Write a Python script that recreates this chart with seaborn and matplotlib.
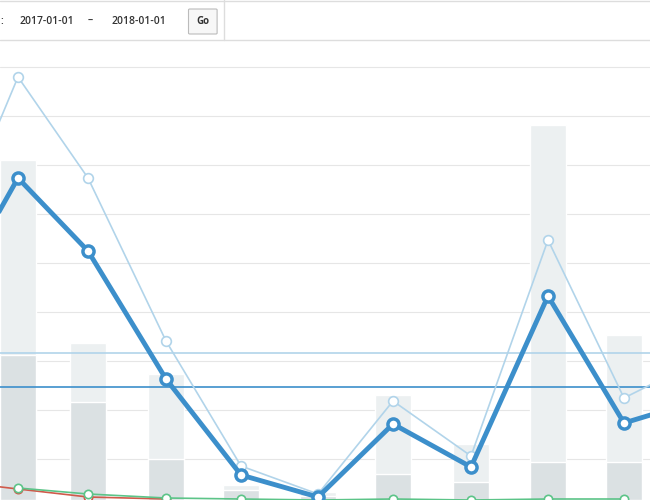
import matplotlib
matplotlib.use("Agg")
import matplotlib.pyplot as plt
import seaborn as sns
from matplotlib.patches import FancyBboxPatch

sns.set_style("white")
plt.rcParams['font.family'] = ['Open Sans', 'DejaVu Sans']

months = [18, 88, 166, 241, 318, 393, 471, 548, 624]
light_bars = [340, 157, 126, 15, 8, 105, 56, 375, 165]
dark_bars = [145, 98, 41, 10, 4, 26, 18, 38, 38]
ext_months = [-58, 18, 88, 166, 241, 318, 393, 471, 548, 624, 700]
net_sales = [187, 322, 249, 121, 25, 3, 76, 33, 204, 77, 100]
gross_sales = [241, 423, 322, 159, 34, 6, 99, 44, 260, 102, 140]
red_months = [-58, 18, 88, 166]
red_vals = [20, 11, 3, 1]
green_vals = [12, 6, 2, 1, 0, 1, 0, 1, 1]
avg_gross = 147
avg_net = 113

fig = plt.figure(figsize=(6.5, 5), dpi=100)
ax = fig.add_axes([0, 0, 1, 0.92])
ax.set_xlim(0, 650)
ax.set_ylim(0, 460)
for y in range(41, 460, 49):
    ax.axhline(y, color="#e6e6e6", lw=0.8, zorder=0)
ax.bar(months, light_bars, width=36, color="#ecf0f1", zorder=1)
ax.bar(months, dark_bars, width=36, color="#dbe1e3", zorder=2)
ax.axhline(avg_gross, color="#b1d4ea", lw=1.2, zorder=3)
ax.axhline(avg_net, color="#3c8fcb", lw=1.2, zorder=3)

def line(x, y, c, lw, ms, mew):
    sns.lineplot(x=x, y=y, color=c, lw=lw, marker="o", markerfacecolor="white",
                 markeredgecolor=c, markersize=ms, markeredgewidth=mew, ax=ax, zorder=4)

line(red_months, red_vals, "#d05a4b", 1.2, 6, 1.2)
line(months, green_vals, "#5cc488", 1.2, 6, 1.2)
line(ext_months, gross_sales, "#b1d4ea", 1.2, 7, 1.2)
line(ext_months, net_sales, "#3c8fcb", 3.5, 8, 2.5)
ax.set_xlim(0, 650)
ax.set_xticks([]); ax.set_yticks([])
for s in ax.spines.values():
    s.set_visible(False)

fig.add_artist(plt.Line2D([0, 1], [0.92, 0.92], color="#dddddd", lw=1, transform=fig.transFigure))
fig.add_artist(plt.Line2D([0, 1], [0.999, 0.999], color="#dddddd", lw=1, transform=fig.transFigure))
fig.add_artist(plt.Line2D([0.345, 0.345], [0.92, 1], color="#dddddd", lw=1, transform=fig.transFigure))
tk = dict(fontsize=7.5, color="#333", va="center", fontweight="semibold")
fig.text(0.0, 0.958, ":", **tk)
fig.text(0.03, 0.958, "2017-01-01", **tk)
fig.text(0.135, 0.958, "–", **tk)
fig.text(0.172, 0.958, "2018-01-01", **tk)
fig.patches.append(FancyBboxPatch((0.292, 0.934), 0.04, 0.046, boxstyle="round,pad=0.002",
                                  transform=fig.transFigure, fc="#f7f7f7", ec="#bbbbbb", lw=0.8))
fig.text(0.312, 0.957, "Go", fontsize=7, color="#333", va="center", ha="center", fontweight="bold")
fig.savefig("out.png")
